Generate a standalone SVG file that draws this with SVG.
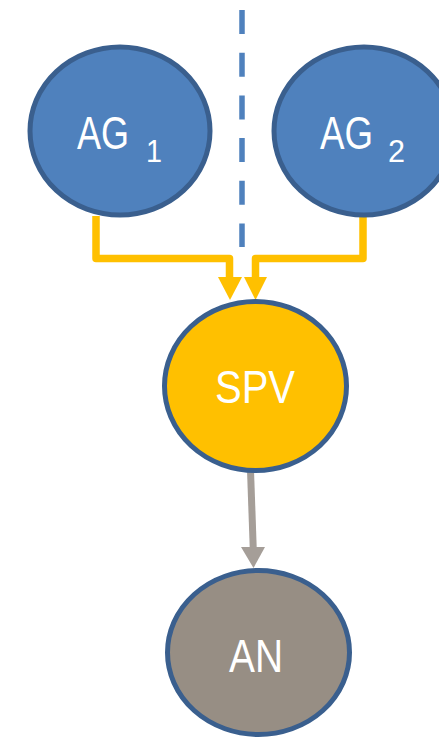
<svg xmlns="http://www.w3.org/2000/svg" width="439" height="737" viewBox="0 0 439 737">
  <style>
    .node { stroke: #3A5F8E; stroke-width: 5; }
    .ag { fill: #4F81BD; }
    .spv { fill: #FFC000; }
    .an { fill: #978E84; }
    .label { font-family: "Liberation Sans", Arial, sans-serif; fill: #FFFFFF; font-size: 46px; }
    .sub { font-size: 31px; }
    .feed { fill: none; stroke: #FFC000; stroke-width: 7.5; stroke-linejoin: round; }
    .feed-head { fill: #FFC000; }
    .out { fill: none; stroke: #A59E98; stroke-width: 7; }
    .out-head { fill: #A59E98; }
  </style>

  <!-- divider -->
  <line x1="242" y1="10" x2="242" y2="247" stroke="#4F81BD" stroke-width="5.5" stroke-dasharray="24 18.7"/>

  <!-- connectors -->
  <g id="connectors">
    <path class="feed" d="M96,216 V258.5 H229.5 V280"/>
    <polygon class="feed-head" points="218,277 242,277 230,300"/>
    <path class="feed" d="M363,216 V258.5 H255.5 V280"/>
    <polygon class="feed-head" points="244,277 267,277 255.5,300"/>
    <path class="out" d="M250.5,470 L253.3,550"/>
    <polygon class="out-head" points="241,547 265,547 253.5,568"/>
  </g>

  <g id="ag1">
    <ellipse class="node ag" cx="120" cy="131" rx="90" ry="84"/>
    <text class="label" x="77" y="149" textLength="52" lengthAdjust="spacingAndGlyphs">AG</text>
    <text class="label sub" x="146" y="162" textLength="16" lengthAdjust="spacingAndGlyphs">1</text>
  </g>

  <g id="ag2">
    <ellipse class="node ag" cx="364" cy="131" rx="90" ry="84"/>
    <text class="label" x="320" y="149" textLength="53" lengthAdjust="spacingAndGlyphs">AG</text>
    <text class="label sub" x="388" y="162" textLength="17" lengthAdjust="spacingAndGlyphs">2</text>
  </g>

  <g id="spv">
    <ellipse class="node spv" cx="255.5" cy="386" rx="91" ry="84.5"/>
    <text class="label" x="215" y="403" textLength="80" lengthAdjust="spacingAndGlyphs">SPV</text>
  </g>

  <g id="an">
    <ellipse class="node an" cx="258.5" cy="652.5" rx="91" ry="82"/>
    <text class="label" x="229" y="672" textLength="54" lengthAdjust="spacingAndGlyphs">AN</text>
  </g>
</svg>
